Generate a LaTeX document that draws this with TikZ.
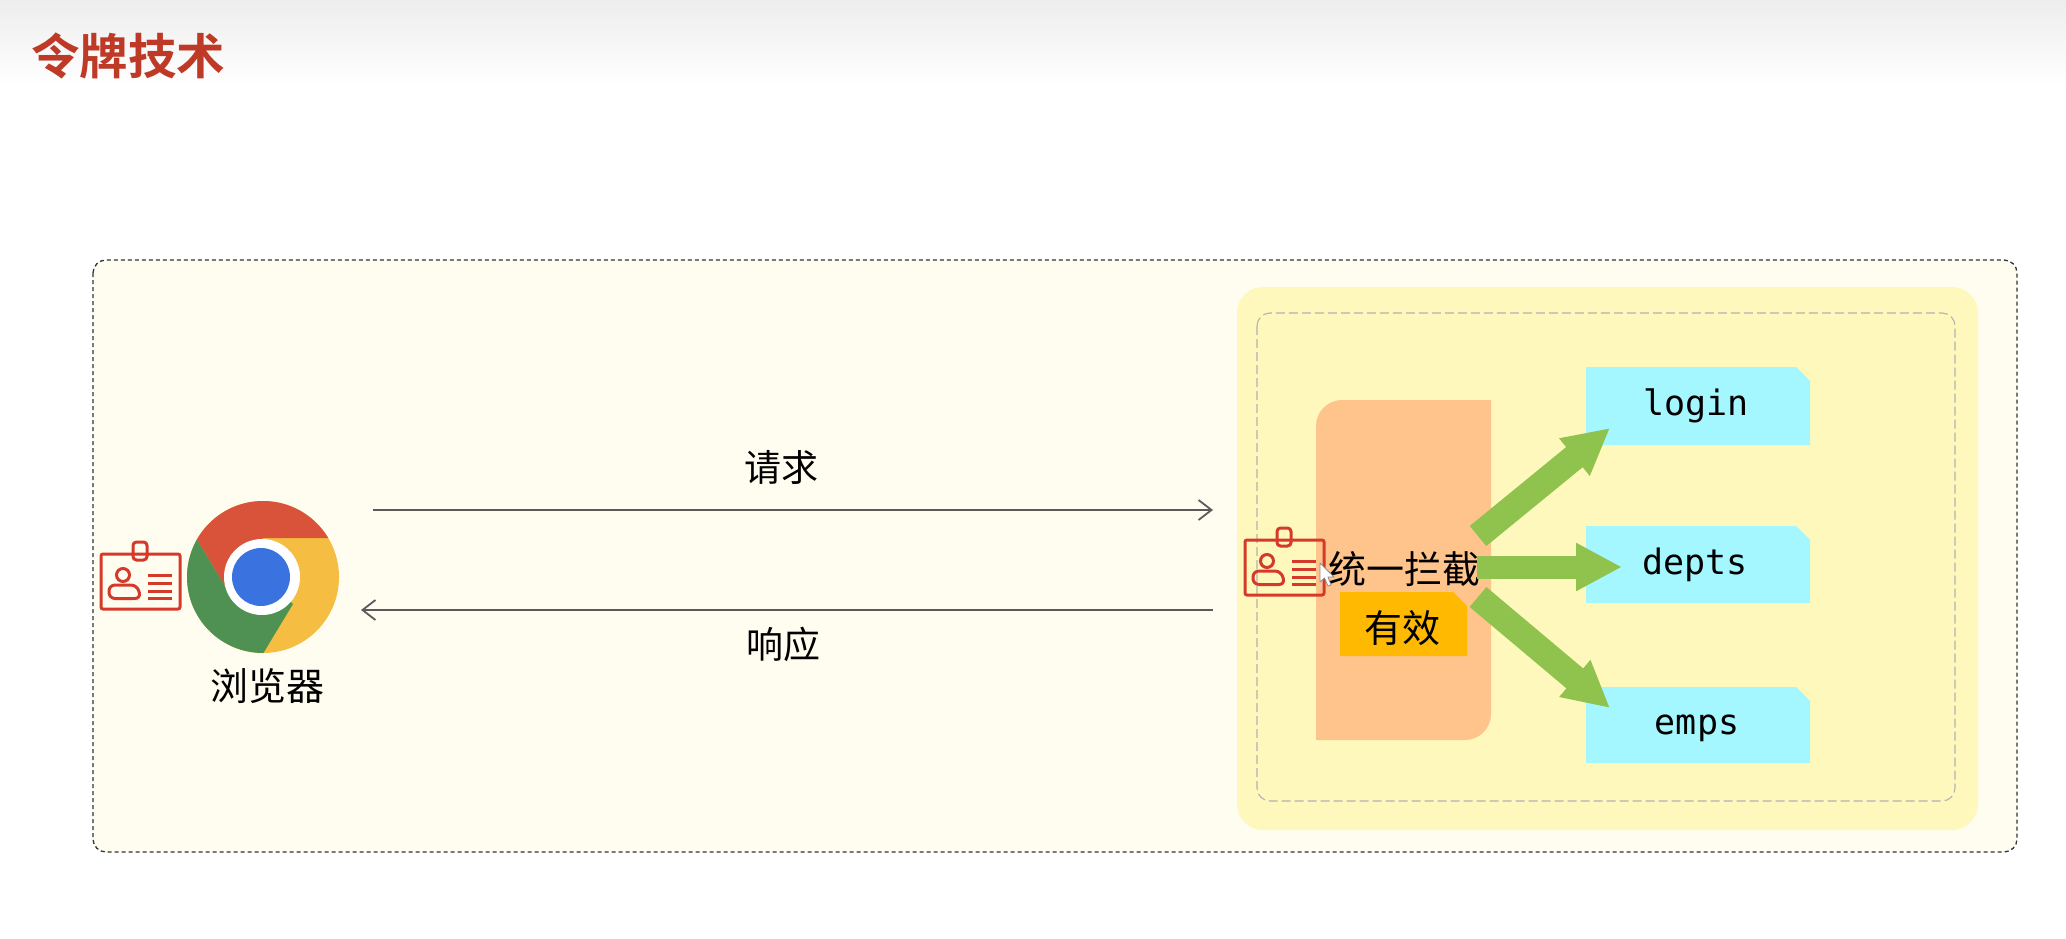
\documentclass[tikz,border=0pt]{standalone}
\usepackage{fontspec}
\setmainfont{Noto Sans CJK SC}
\newfontfamily\cjkbold[BoldFont={Noto Sans CJK SC Bold}]{Noto Sans CJK SC}
\setmonofont{DejaVu Sans Mono}
\usetikzlibrary{arrows.meta,calc}
\definecolor{cTitle}{HTML}{BE3A26}
\definecolor{cOuter}{HTML}{FFFDF0}
\definecolor{cYellow}{HTML}{FEF8BC}
\definecolor{cOrange}{HTML}{FFC48C}
\definecolor{cAmber}{HTML}{FFB900}
\definecolor{cCyan}{HTML}{A4F7FF}
\definecolor{cGreen}{HTML}{8FC34E}
\definecolor{cBadge}{HTML}{D5392A}
\definecolor{cLine}{HTML}{5A5A5A}
\definecolor{cRed}{HTML}{D8533A}
\definecolor{cGold}{HTML}{F5BD41}
\definecolor{cLeaf}{HTML}{4F9152}
\definecolor{cBlue}{HTML}{3A73E0}
\tikzset{
  x=1pt,y=-1pt,
  label38/.style={font=\fontsize{37}{37}\selectfont,text=black,inner sep=0pt},
  apitext/.style={font=\ttfamily\fontsize{35}{35}\selectfont,text=black,inner sep=0pt,text height=26pt,text depth=8pt},
  flow/.style={line width=1.8pt,draw=cLine,-{Straight Barb[length=13pt,width=20pt,line width=1.8pt]}},
  bigarrow/.style={line width=#1,draw=cGreen,-{Triangle[length=46pt,width=45pt]}},
  badgeline/.style={draw=cBadge,line width=3pt},
  pics/badge/.style={code={
    \draw[badgeline,rounded corners=2pt] (0,0) rectangle (79,55);
    \draw[badgeline,rounded corners=3.5pt] (32,-12) rectangle (46,6);
    \draw[badgeline] (22,21) circle (6.5);
    \draw[badgeline,rounded corners=6pt] (8,44.5) -- (8,31) -- (36,31) -- (40,44.5) -- cycle;
    \foreach \yy in {21,29,37,44}{\draw[badgeline] (47,\yy) -- (71,\yy);}
  }},
}
\newcommand{\snipbox}[6]{% colour, x1,y1,x2,y2, snip
  \fill[#1] (#2,#3) -- ({#4-#6},#3) -- (#4,{#3+#6}) -- (#4,#5) -- (#2,#5) -- cycle;}
\begin{document}
\begin{tikzpicture}
\useasboundingbox (0,0) rectangle (2066,939);
\fill[white] (0,0) rectangle (2066,939);
\shade[top color=black!7,bottom color=white] (0,0) rectangle (2066,85);
\begin{scope}[yshift=-1pt]
\node[font=\cjkbold\bfseries\fontsize{48.5}{48.5}\selectfont,text=cTitle,inner sep=0pt] (title) at (128,55) {令牌技术};

% containers
\draw[fill=cOuter,draw=black!80,line width=1.3pt,dash pattern=on 4pt off 3pt,rounded corners=13pt] (93,259) rectangle (2017,851);
\fill[cYellow,rounded corners=26pt] (1237,286) rectangle (1978,829);
\draw[draw=black!30,line width=1.1pt,dash pattern=on 9pt off 4pt,rounded corners=13pt] (1257,312) rectangle (1955,800);

% interceptor block
\fill[cOrange] (1316,739) [rounded corners=26pt] -- (1316,399) [sharp corners] -- (1491,399) [rounded corners=26pt] -- (1491,739) [sharp corners] -- cycle;

% service boxes
\snipbox{cCyan}{1586}{366}{1810}{444}{14}
\snipbox{cCyan}{1586}{525}{1810}{602}{14}
\snipbox{cCyan}{1586}{686}{1810}{762}{14}
\snipbox{cAmber}{1340}{591}{1467}{655}{14}
\node[apitext] (login) at (1696,405) {login};
\node[apitext] (depts) at (1695,564) {depts};
\node[apitext] (emps) at (1697,724) {emps};

% text in the block
\node[label38,font=\fontsize{38}{38}\selectfont] (hub) at (1404,568) {统一拦截};
\node[label38,font=\fontsize{38}{38}\selectfont] (valid) at (1402,627) {有效};

% green arrows
\coordinate (t1) at (1478,535);
\coordinate (t2) at (1477,566);
\coordinate (t3) at (1478,596);
\coordinate (h1) at (1610,427);
\coordinate (h2) at (1622,566);
\coordinate (h3) at (1610,707);
\draw[bigarrow=26pt] (t1) -- (h1);
\draw[bigarrow=23pt] (t2) -- (h2);
\draw[bigarrow=26pt] (t3) -- (h3);

% chrome logo
\begin{scope}
\clip (263,576) circle (76);
\fill[cGold] (180,490) rectangle (350,660);
\fill[cRed] (263,537) -- (345,537) -- (345,480) -- (170,480) -- (185,519) -- (225,585) -- cycle;
\fill[cLeaf] (225,585) -- (185,519) -- (170,520) -- (170,665) -- (255,665) -- (264,651) -- (293,603) -- (262,576) -- cycle;
\end{scope}
\fill[white] (262,576) circle (38);
\fill[cBlue] (261,576) circle (29);
\node[label38,font=\fontsize{38}{38}\selectfont] (browser) at (267,685) {浏览器};

% badges
\pic at (101,553) {badge};
\pic at (1245,539) {badge};

% cursor
\draw[fill=white,draw=black!45,line width=0.8pt,line join=round] (1320,562) -- (1320,581) -- (1324.5,577) -- (1328,585) -- (1331,584) -- (1328,576) -- (1334,576) -- cycle;

% request / response
\coordinate (reqs) at (373,509);
\coordinate (reqe) at (1213,509);
\coordinate (ress) at (1213,609);
\coordinate (rese) at (361,609);
\draw[flow] (reqs) -- (reqe);
\draw[flow] (ress) -- (rese);
\node[label38] (req) at (781,466) {请求};
\node[label38] (res) at (783,643) {响应};
\end{scope}
\end{tikzpicture}
\end{document}
